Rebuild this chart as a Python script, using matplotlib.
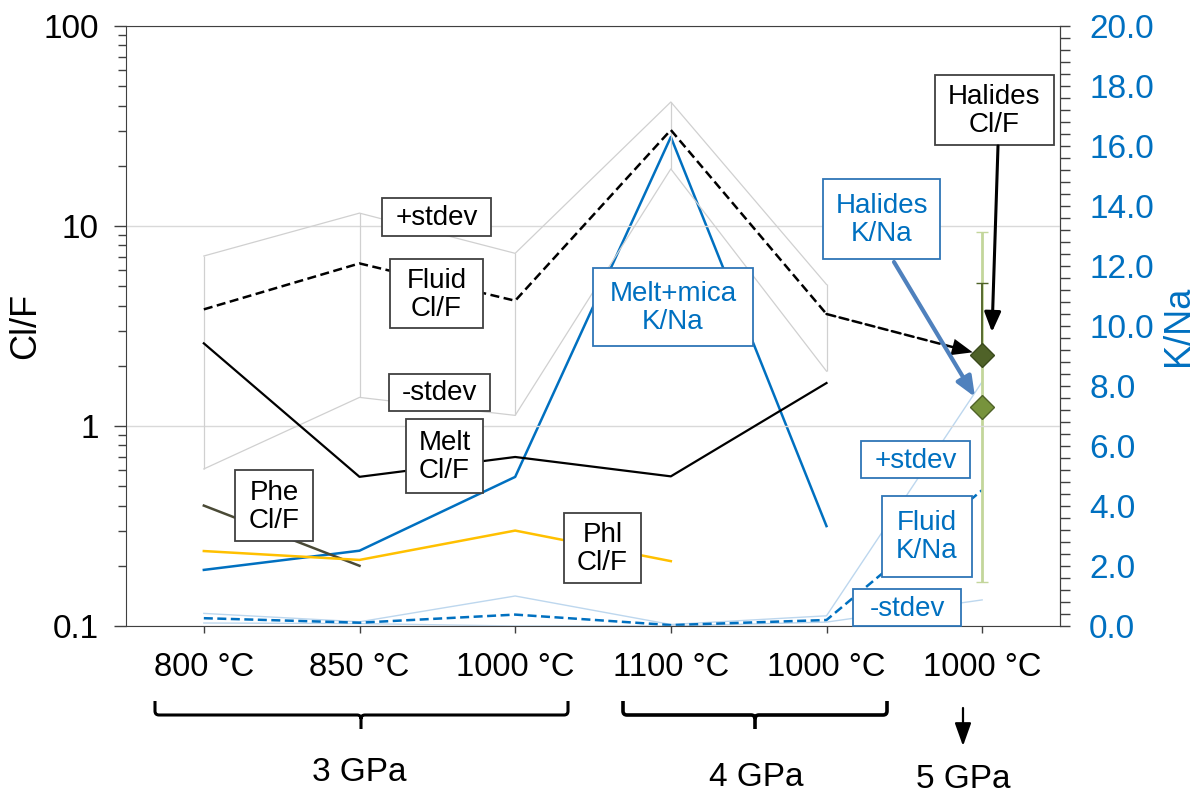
import matplotlib
matplotlib.use('Agg')
import matplotlib.pyplot as plt
import numpy as np
from matplotlib.patches import Rectangle, FancyArrowPatch, PathPatch
from matplotlib.path import Path
from matplotlib.transforms import Affine2D
from matplotlib.ticker import (FixedLocator, LogLocator, NullFormatter,
                               FuncFormatter, MultipleLocator)

plt.rcParams['font.family'] = ['Liberation Sans', 'DejaVu Sans']

W, H = 1202, 793

# categories (temperature steps)
categories = ['800 °C', '850 °C', '1000 °C', '1100 °C', '1000 °C', '1000 °C']
x = np.arange(len(categories))

# Cl/F series (left, log axis)
fluid_clf = [3.83, 6.5, 4.23, 30.2, 3.63]
fluid_clf_hi = [7.08, 11.6, 7.3, 41.7, 5.1]
fluid_clf_lo = [0.61, 1.39, 1.13, 19.3, 1.88]
melt_clf = [2.59, 0.557, 0.70, 0.56, 1.64]
phe_clf = [0.40, 0.20]
phl_clf = [0.237, 0.214, 0.30, 0.211]
halide_clf = 2.27
halide_clf_err = 2.9

# K/Na series (right, linear axis)
meltmica_kna = [1.87, 2.51, 4.97, 16.3, 3.33]
fluid_kna = [0.26, 0.11, 0.38, 0.03, 0.20, 4.53]
fluid_kna_hi = [0.42, 0.14, 1.0, 0.05, 0.34, 8.14]
fluid_kna_lo = [0.10, 0.08, 0.0, 0.0, 0.13, 0.87]
halide_kna = 7.3
halide_kna_err = 5.84

blue = '#0070C0'
gray = '#D0D0D0'
light_blue = '#BDD7EE'
dash = (0, (3.6, 1.8))

fig = plt.figure(figsize=(W / 100, H / 100), dpi=100, facecolor='white')
ax = fig.add_axes([126 / W, 1 - 626 / H, 934 / W, 600 / H])
ax2 = ax.twinx()
ax.set_zorder(2)
ax2.set_zorder(1)
ax.patch.set_visible(False)

# pixel coordinates of the figure (y down) for the annotations
pix = Affine2D().scale(1 / W, -1 / H).translate(0, 1) + fig.transFigure

# --- K/Na (right axis) ---
ax2.plot(x, fluid_kna_hi, color=light_blue, lw=1)
ax2.plot(x, fluid_kna_lo, color=light_blue, lw=1)
ax2.plot(x, fluid_kna, color=blue, lw=1.8, ls=dash)
ax2.plot(x[:5], meltmica_kna, color=blue, lw=1.8)
ax2.errorbar([x[5]], [halide_kna], yerr=halide_kna_err, fmt='D', ms=12.5,
             mfc='#77933C', mec='#4F6228', mew=1, ecolor='#C3D69B',
             elinewidth=2, capsize=4.5, capthick=2)

# --- Cl/F (left axis) ---
ax.plot(x[:5], fluid_clf_hi, color=gray, lw=0.9)
ax.plot(x[:5], fluid_clf_lo, color=gray, lw=0.9)
ax.vlines(x[:5], fluid_clf_lo, fluid_clf_hi, color=gray, lw=0.9)
ax.plot(x[:5], fluid_clf, color='black', lw=1.8, ls=dash)
ax.plot(x[:5], melt_clf, color='black', lw=1.6)
ax.plot(x[:2], phe_clf, color='#4A4A36', lw=1.8)
ax.plot(x[:4], phl_clf, color='#FFC000', lw=1.8)
ax.errorbar([x[5]], [halide_clf], yerr=[[0], [halide_clf_err]], fmt='D', ms=12.5,
            mfc='#4F6228', mec='#3A4A1C', mew=1, ecolor='#4F6228',
            elinewidth=1.3, capsize=4.5, capthick=1.3, zorder=5)
# dashed leader from the fluid line to the halide point, with a solid head
ax.annotate('', xy=(x[5], halide_clf), xytext=(x[4], fluid_clf[4]),
            arrowprops=dict(arrowstyle='-', color='black', lw=1.8, ls=dash,
                            shrinkA=0, shrinkB=16))
ax.annotate('', xy=(x[5], halide_clf), xytext=(x[4], fluid_clf[4]),
            arrowprops=dict(arrowstyle='-|>,head_length=0.75,head_width=0.3',
                            mutation_scale=20, color='black', lw=0.01,
                            shrinkA=0, shrinkB=7))

# axes and ticks
ax.set_yscale('log')
ax.set_ylim(0.1, 100)
ax.set_xlim(-0.5, 5.5)
ax2.set_ylim(0, 20)

ax.set_xticks(x)
ax.set_xticklabels(categories, fontsize=23.5)
ax.tick_params(axis='x', direction='out', length=5, width=1, color='#404040', pad=14)

ax.yaxis.set_major_locator(FixedLocator([0.1, 1, 10, 100]))
ax.yaxis.set_major_formatter(FuncFormatter(lambda v, _: f'{v:g}'))
ax.yaxis.set_minor_locator(LogLocator(base=10, subs=np.arange(2, 10)))
ax.yaxis.set_minor_formatter(NullFormatter())
ax.tick_params(axis='y', which='major', direction='out', length=8.5, width=1,
               color='#404040', pad=11, labelsize=24)
ax.tick_params(axis='y', which='minor', direction='out', length=6, width=1, color='#404040')
ax.grid(True, which='major', axis='y', color='#D9D9D9', lw=1)
ax.set_axisbelow(True)

ax2.yaxis.set_major_locator(MultipleLocator(2))
ax2.yaxis.set_minor_locator(MultipleLocator(0.4))
ax2.yaxis.set_major_formatter(FuncFormatter(lambda v, _: f'{v:.1f}'))
ax2.tick_params(axis='y', which='both', direction='out', length=7, width=1,
                color='#404040', labelcolor=blue, labelsize=24, pad=14)

for s in ax.spines.values():
    s.set_color('#404040')
for name in ['left', 'top', 'bottom']:
    ax2.spines[name].set_visible(False)
ax2.spines['right'].set_color('#404040')

ax.set_ylabel('Cl/F', fontsize=26)
ax.yaxis.set_label_coords(-0.107, 0.5)
ax.yaxis.label.set_verticalalignment('center')
ax2.set_ylabel('K/Na', fontsize=26, color=blue)
ax2.yaxis.set_label_coords(1.127, 0.5)
ax2.yaxis.label.set_verticalalignment('center')


def box(x0, y0, x1, y1, text, color, edge):
    fig.add_artist(Rectangle((x0, y0), x1 - x0, y1 - y0, transform=pix,
                             facecolor='white', edgecolor=edge, lw=1.3, zorder=10))
    fig.text((x0 + x1) / 2, (y0 + y1) / 2 + 1, text, transform=pix, ha='center',
             va='center', color=color, fontsize=20, zorder=11, linespacing=1.1)


box(382, 198, 491, 236, '+stdev', 'black', '#404040')
box(390, 259, 483, 328, 'Fluid\nCl/F', 'black', '#404040')
box(389, 374, 490, 411, '-stdev', 'black', '#404040')
box(406, 419, 483, 493, 'Melt\nCl/F', 'black', '#404040')
box(235, 470, 313, 541, 'Phe\nCl/F', 'black', '#404040')
box(564, 513, 641, 583, 'Phl\nCl/F', 'black', '#404040')
box(935, 75, 1054, 145, 'Halides\nCl/F', 'black', '#404040')
box(593, 268, 753, 346, 'Melt+mica\nK/Na', blue, '#2E75B6')
box(823, 179, 940, 259, 'Halides\nK/Na', blue, '#2E75B6')
box(861, 441, 970, 478, '+stdev', blue, '#2E75B6')
box(882, 496, 972, 577, 'Fluid\nK/Na', blue, '#2E75B6')
box(853, 589, 961, 626, '-stdev', blue, '#2E75B6')

# arrows to the halide points
fig.add_artist(FancyArrowPatch((998, 146), (992, 332), transform=pix,
                               arrowstyle='-|>,head_length=0.6,head_width=0.25',
                               mutation_scale=20, color='black', lw=2.2,
                               shrinkA=0, shrinkB=0, zorder=12))
fig.add_artist(FancyArrowPatch((894, 262), (975, 397), transform=pix,
                               arrowstyle='-|>,head_length=0.6,head_width=0.25',
                               mutation_scale=20, color='#4F81BD', lw=3,
                               shrinkA=0, shrinkB=0, zorder=12))


# braces under the categories
def brace(x0, x1, xc, lw):
    y0, y1, y2, r = 701, 715, 729, 4
    verts = [(x0, y0), (x0, y1 - r), (x0, y1), (x0 + r, y1), (xc - r, y1),
             (xc, y1), (xc, y1 + r), (xc, y2),
             (xc, y1 + r), (xc, y1), (xc + r, y1), (x1 - r, y1),
             (x1, y1), (x1, y1 - r), (x1, y0)]
    codes = [Path.MOVETO, Path.LINETO, Path.CURVE3, Path.CURVE3, Path.LINETO,
             Path.CURVE3, Path.CURVE3, Path.LINETO,
             Path.MOVETO, Path.CURVE3, Path.CURVE3, Path.LINETO,
             Path.CURVE3, Path.CURVE3, Path.LINETO]
    fig.add_artist(PathPatch(Path(verts, codes), transform=pix, fill=False,
                             edgecolor='black', lw=lw, capstyle='butt'))


brace(155, 568, 361, 2.2)
brace(623, 887, 755, 2.6)
fig.add_artist(FancyArrowPatch((963, 708), (963, 746), transform=pix,
                               arrowstyle='-|>,head_length=0.7,head_width=0.25',
                               mutation_scale=20, color='black', lw=1.6,
                               shrinkA=0, shrinkB=0))

fig.text(359, 781, '3 GPa', transform=pix, ha='center', va='baseline', fontsize=24)
fig.text(756, 786, '4 GPa', transform=pix, ha='center', va='baseline', fontsize=24)
fig.text(963, 788, '5 GPa', transform=pix, ha='center', va='baseline', fontsize=24)

fig.savefig('out.png', dpi=100)
